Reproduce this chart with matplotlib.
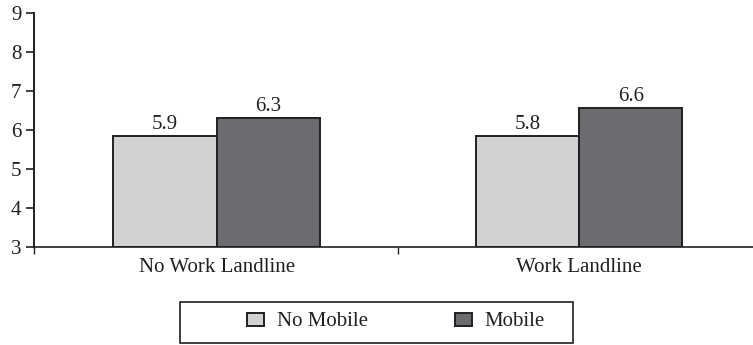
import numpy as np
import matplotlib
matplotlib.use("Agg")
import matplotlib.pyplot as plt
from matplotlib.patches import Rectangle

# data
categories = ["No Work Landline", "Work Landline"]
series_names = ["No Mobile", "Mobile"]
no_mobile = [5.85, 5.84]
mobile = [6.3, 6.57]
no_mobile_labels = ["5.9", "5.8"]
mobile_labels = ["6.3", "6.6"]

plt.rcParams['font.family'] = ['Liberation Serif', 'DejaVu Serif']
fs = 15

fig = plt.figure(figsize=(7.53, 3.45), dpi=100)
ax = fig.add_axes([34/753, (345-247)/345, (753-34)/753, (247-13)/345])

x = np.arange(len(categories))
w = 0.285
edge = '#231f20'
b1 = ax.bar(x - w/2, np.array(no_mobile) - 3, w, bottom=3, color='#d1d2d4',
            edgecolor=edge, linewidth=1.4, label=series_names[0])
b2 = ax.bar(x + w/2, np.array(mobile) - 3, w, bottom=3, color='#6b6c70',
            edgecolor=edge, linewidth=1.4, label=series_names[1])

#数値ラベル
for xi, v, t in zip(x - w/2, no_mobile, no_mobile_labels):
    ax.text(xi, v + 0.05, t, ha='center', va='bottom', fontsize=fs, color=edge)
for xi, v, t in zip(x + w/2, mobile, mobile_labels):
    ax.text(xi, v + 0.05, t, ha='center', va='bottom', fontsize=fs, color=edge)

ax.set_ylim(3, 9)
ax.set_xlim(-0.504, 1.48)
ax.set_yticks(range(3, 10))
ax.tick_params(axis='y', direction='out', length=6, width=1.2, labelsize=fs,
               colors=edge, pad=3)
ax.set_xticks([-0.504, 0.5])
ax.set_xticklabels([])
ax.tick_params(axis='x', direction='out', length=5, width=1.0, colors=edge)
for xi, c in zip(x, categories):
    ax.text(xi, 2.72, c, ha='center', va='top', fontsize=fs, color=edge)

for s in ['top', 'right']:
    ax.spines[s].set_visible(False)
ax.spines['left'].set_linewidth(1.4)
ax.spines['bottom'].set_linewidth(1.2)
ax.spines['left'].set_color(edge)
ax.spines['bottom'].set_color(edge)

#凡例（枠は別に描く）
fig.patches.append(Rectangle((180/753, 1 - 343/345), 393/753, 41/345,
                             transform=fig.transFigure, fill=False,
                             edgecolor=edge, linewidth=1.2))
leg = fig.legend(handles=[b1, b2], labels=series_names, ncol=2,
                 loc='center', bbox_to_anchor=(396/753, 1 - 322/345),
                 frameon=False, prop={'family': 'Liberation Serif', 'size': fs},
                 handlelength=0.8, handleheight=0.6,
                 columnspacing=4.2, handletextpad=0.6, borderpad=0,
                 borderaxespad=0)
for t in leg.get_texts():
    t.set_color(edge)

fig.savefig("out.png", dpi=100)
